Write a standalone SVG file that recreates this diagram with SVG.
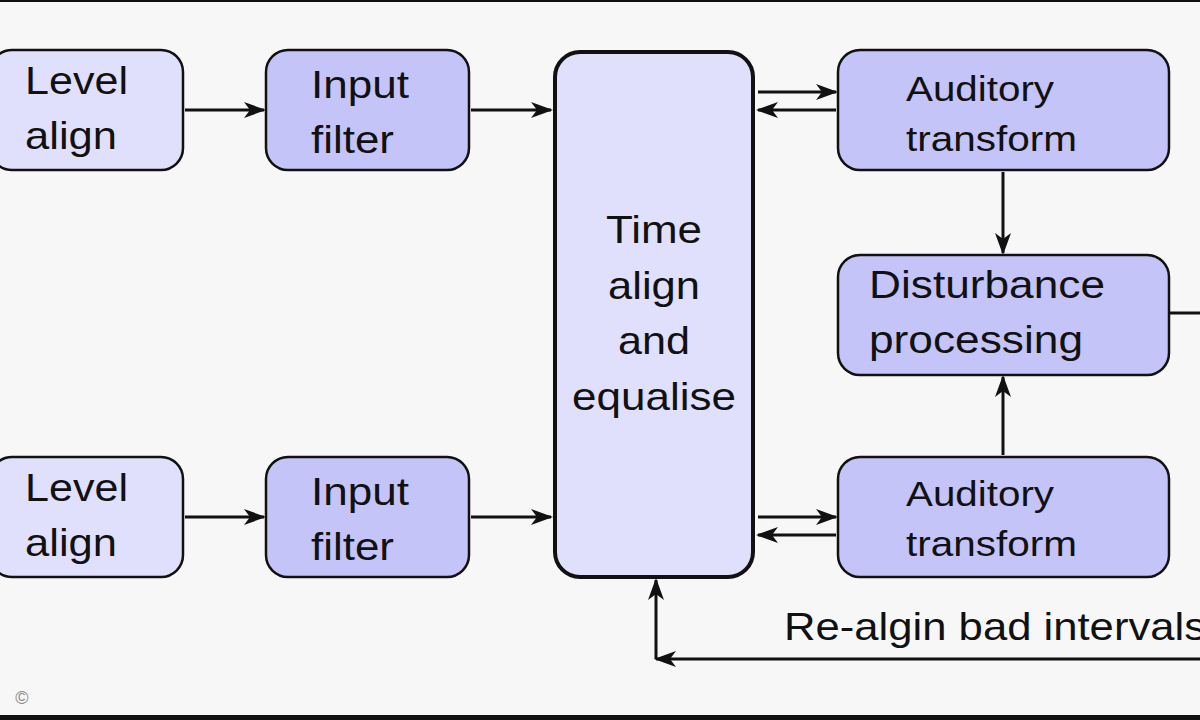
<svg xmlns="http://www.w3.org/2000/svg" width="1200" height="720" viewBox="0 0 1200 720">
<style>
.b{stroke:#111;stroke-width:2.5}
.l{fill:#e0e0fc}.d{fill:#c4c4f8}
text{font-family:"Liberation Sans",Arial,sans-serif;fill:#111}
.t{font-size:39px}.s{font-size:35px}
.c{stroke:#111;stroke-width:3;fill:none}
</style>
<defs><marker id="a" viewBox="0 0 22 16" refX="20" refY="8" markerWidth="22" markerHeight="16" markerUnits="userSpaceOnUse" orient="auto"><path d="M0,0 L22,8 L0,16 L6,8 Z" fill="#111"/></marker></defs>
<rect width="1200" height="720" fill="#f7f7f7"/>
<rect x="0" y="0" width="1200" height="2" fill="#111"/>
<rect x="0" y="715" width="1200" height="5" fill="#111"/>
<g id="n1"><rect class="b l" x="-10" y="50" width="193" height="120" rx="22"/><text class="t" x="25" y="94" textLength="103" lengthAdjust="spacingAndGlyphs">Level</text><text class="t" x="25" y="149" textLength="92" lengthAdjust="spacingAndGlyphs">align</text></g>
<g id="n2"><rect class="b d" x="266" y="50" width="203" height="120" rx="22"/><text class="t" x="311" y="98" textLength="98" lengthAdjust="spacingAndGlyphs">Input</text><text class="t" x="311" y="153" textLength="83" lengthAdjust="spacingAndGlyphs">filter</text></g>
<g id="n3"><rect class="b l" x="-10" y="457" width="193" height="120" rx="22"/><text class="t" x="25" y="501" textLength="103" lengthAdjust="spacingAndGlyphs">Level</text><text class="t" x="25" y="556" textLength="92" lengthAdjust="spacingAndGlyphs">align</text></g>
<g id="n4"><rect class="b d" x="266" y="457" width="203" height="120" rx="22"/><text class="t" x="311" y="505" textLength="98" lengthAdjust="spacingAndGlyphs">Input</text><text class="t" x="311" y="560" textLength="83" lengthAdjust="spacingAndGlyphs">filter</text></g>
<g id="n5"><rect class="l" x="555" y="52" width="198" height="525" rx="25" stroke="#111" stroke-width="4"/><g class="t" text-anchor="middle"><text x="654" y="243" textLength="96" lengthAdjust="spacingAndGlyphs">Time</text><text x="654" y="299" textLength="92" lengthAdjust="spacingAndGlyphs">align</text><text x="654" y="354" textLength="72" lengthAdjust="spacingAndGlyphs">and</text><text x="654" y="410" textLength="164" lengthAdjust="spacingAndGlyphs">equalise</text></g></g>
<g id="n6"><rect class="b d" x="838" y="50" width="331" height="120" rx="22"/><text class="s" x="906" y="101" textLength="148" lengthAdjust="spacingAndGlyphs">Auditory</text><text class="s" x="906" y="151" textLength="171" lengthAdjust="spacingAndGlyphs">transform</text></g>
<g id="n7"><rect class="b d" x="838" y="255" width="331" height="120" rx="22"/><text class="t" x="869" y="298" textLength="236" lengthAdjust="spacingAndGlyphs">Disturbance</text><text class="t" x="869" y="353" textLength="214" lengthAdjust="spacingAndGlyphs">processing</text></g>
<g id="n8"><rect class="b d" x="838" y="457" width="331" height="120" rx="22"/><text class="s" x="906" y="506" textLength="148" lengthAdjust="spacingAndGlyphs">Auditory</text><text class="s" x="906" y="556" textLength="171" lengthAdjust="spacingAndGlyphs">transform</text></g>
<g id="e">
<line class="c" x1="185" y1="110" x2="264" y2="110" marker-end="url(#a)"/>
<line class="c" x1="471" y1="110" x2="551" y2="110" marker-end="url(#a)"/>
<line class="c" x1="185" y1="517" x2="264" y2="517" marker-end="url(#a)"/>
<line class="c" x1="471" y1="517" x2="551" y2="517" marker-end="url(#a)"/>
<line class="c" x1="758" y1="92" x2="836" y2="92" marker-end="url(#a)"/>
<line class="c" x1="836" y1="110" x2="758" y2="110" marker-end="url(#a)"/>
<line class="c" x1="758" y1="517" x2="836" y2="517" marker-end="url(#a)"/>
<line class="c" x1="836" y1="535" x2="758" y2="535" marker-end="url(#a)"/>
<line class="c" x1="1003" y1="172" x2="1003" y2="253" marker-end="url(#a)"/>
<line class="c" x1="1003" y1="455" x2="1003" y2="377" marker-end="url(#a)"/>
<line class="c" x1="1170" y1="313" x2="1200" y2="313"/>
<line class="c" x1="1200" y1="659" x2="656" y2="659" marker-end="url(#a)"/>
<line class="c" x1="656" y1="659" x2="656" y2="580" marker-end="url(#a)"/>
</g>
<text class="t" x="784" y="640" textLength="422" lengthAdjust="spacingAndGlyphs">Re-algin bad intervals</text>
<text x="22" y="704" font-size="18" text-anchor="middle" style="fill:#888">©</text>
</svg>
